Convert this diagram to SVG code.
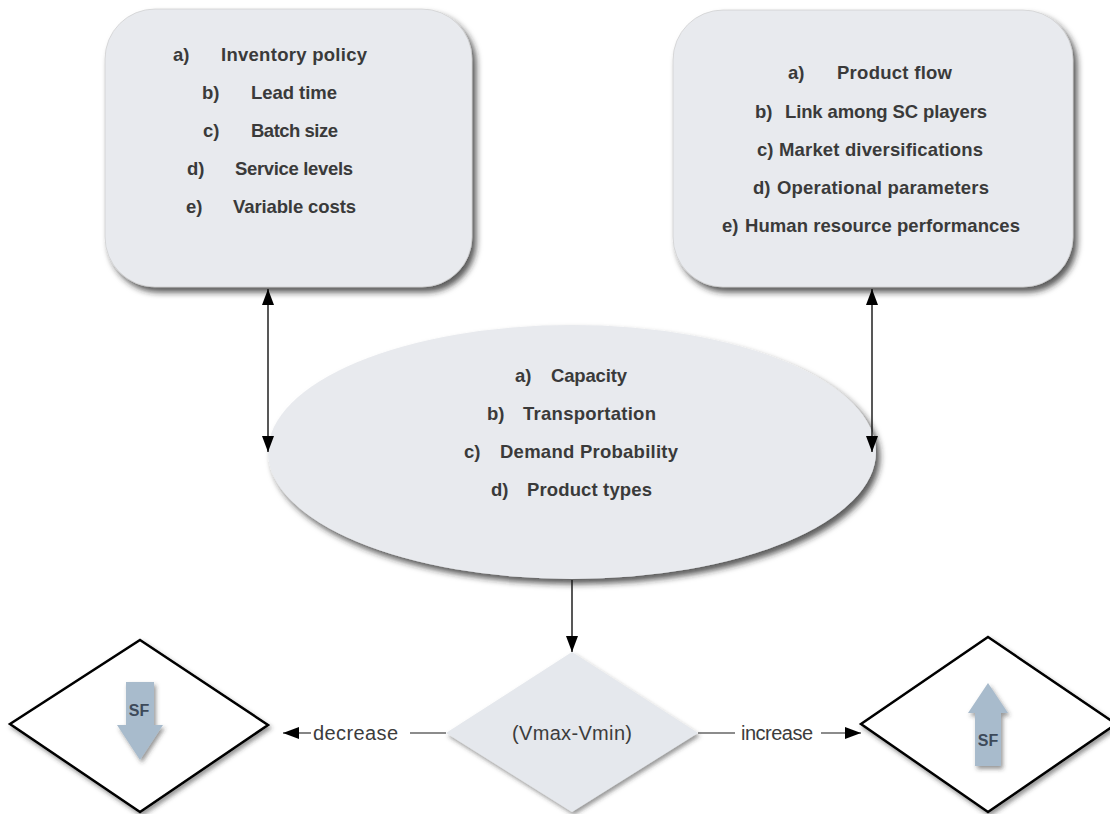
<svg xmlns="http://www.w3.org/2000/svg" width="1110" height="814" viewBox="0 0 1110 814">
<style>
.t{font-family:"Liberation Sans",Arial,sans-serif;font-weight:bold;font-size:18.5px;fill:#3a3a3a}
.l{font-family:"Liberation Sans",Arial,sans-serif;font-size:20px;fill:#3c3c3c}
.sf{font-family:"Liberation Sans",Arial,sans-serif;font-weight:bold;font-size:16px;fill:#3d4a5a}
.box{fill:#e8eaee;stroke:#c8c8c8;stroke-width:0.6}
.ln{stroke:#111;stroke-width:1.4;fill:none}
.gl{stroke:#666;stroke-width:1.6;fill:none}
.dm{fill:#fff;stroke:#000;stroke-width:2.5}
.sfa{fill:#a8bbcc}
</style>
<defs>
<filter id="sh" x="-10%" y="-10%" width="125%" height="130%">
<feDropShadow dx="4" dy="5" stdDeviation="3" flood-color="#222" flood-opacity="0.75"/>
</filter>
<filter id="sh2" x="-10%" y="-10%" width="125%" height="130%">
<feDropShadow dx="2" dy="3" stdDeviation="2" flood-color="#333" flood-opacity="0.5"/>
</filter>
<marker id="ah" viewBox="0 0 16 12" refX="16" refY="6" markerWidth="16" markerHeight="12" markerUnits="userSpaceOnUse" orient="auto-start-reverse">
<path d="M0,0 L16,6 L0,12 z" fill="#000"/>
</marker>
</defs>
<rect width="1110" height="814" fill="#fff"/>

<g id="box-left">
<rect class="box" x="105" y="9" width="367" height="278" rx="50" ry="50" filter="url(#sh)"/>
<text class="t" x="173" y="61">a)</text><text class="t" x="221" y="61" textLength="146">Inventory policy</text>
<text class="t" x="202" y="99">b)</text><text class="t" x="251" y="99" textLength="86">Lead time</text>
<text class="t" x="203" y="137">c)</text><text class="t" x="251" y="137" textLength="87">Batch size</text>
<text class="t" x="187" y="175">d)</text><text class="t" x="235" y="175" textLength="118">Service levels</text>
<text class="t" x="186" y="213">e)</text><text class="t" x="233" y="213" textLength="123">Variable costs</text>
</g>

<g id="box-right">
<rect class="box" x="673" y="10" width="400" height="277" rx="50" ry="50" filter="url(#sh)"/>
<text class="t" x="788" y="79">a)</text><text class="t" x="837" y="79" textLength="115">Product flow</text>
<text class="t" x="755" y="118">b)</text><text class="t" x="785" y="118" textLength="202">Link among SC players</text>
<text class="t" x="757" y="156">c)</text><text class="t" x="779" y="156" textLength="204">Market diversifications</text>
<text class="t" x="753" y="194">d)</text><text class="t" x="777" y="194" textLength="212">Operational parameters</text>
<text class="t" x="722" y="232">e)</text><text class="t" x="745" y="232" textLength="275">Human resource performances</text>
</g>

<g id="ellipse">
<ellipse cx="572" cy="452" rx="304" ry="127" fill="#e8eaee" filter="url(#sh)"/>
<text class="t" x="515" y="382">a)</text><text class="t" x="551" y="382" textLength="76">Capacity</text>
<text class="t" x="487" y="420">b)</text><text class="t" x="523" y="420" textLength="133">Transportation</text>
<text class="t" x="464" y="458">c)</text><text class="t" x="500" y="458" textLength="178">Demand Probability</text>
<text class="t" x="491" y="496">d)</text><text class="t" x="527" y="496" textLength="125">Product types</text>
</g>

<g id="diamond-center">
<polygon points="572,652 698,733 572,812 446,733" fill="#e5e8ed" filter="url(#sh2)"/>
<text class="l" x="572" y="740" text-anchor="middle" textLength="120">(Vmax-Vmin)</text>
</g>

<g id="diamond-left">
<polygon class="dm" points="140,640 268,725 140,812 10,724" filter="url(#sh2)"/>
<polygon class="sfa" points="126,682 154,682 154,725 163,725 140,760 117,725 126,725" filter="url(#sh2)"/>
<text class="sf" x="139" y="716" text-anchor="middle">SF</text>
</g>

<g id="diamond-right">
<polygon class="dm" points="988,637 1116,724 988,812 861,724" filter="url(#sh2)"/>
<polygon class="sfa" points="988,683 1008,713 1001,713 1001,766 975,766 975,713 968,713" filter="url(#sh2)"/>
<text class="sf" x="988" y="746" text-anchor="middle">SF</text>
</g>

<g id="connectors">
<line class="ln" x1="268" y1="289" x2="268" y2="452" marker-start="url(#ah)" marker-end="url(#ah)"/>
<line class="ln" x1="872" y1="289" x2="872" y2="452" marker-start="url(#ah)" marker-end="url(#ah)"/>
<line class="ln" x1="572" y1="580" x2="572" y2="652" marker-end="url(#ah)"/>
<line class="gl" x1="446" y1="733" x2="410" y2="733"/>
<text class="l" x="313" y="740" textLength="85">decrease</text>
<line class="gl" x1="311" y1="733" x2="283" y2="733" marker-end="url(#ah)"/>
<line class="gl" x1="698" y1="733" x2="735" y2="733"/>
<text class="l" x="741" y="740" textLength="72">increase</text>
<line class="gl" x1="821" y1="733" x2="861" y2="733" marker-end="url(#ah)"/>
</g>
</svg>
